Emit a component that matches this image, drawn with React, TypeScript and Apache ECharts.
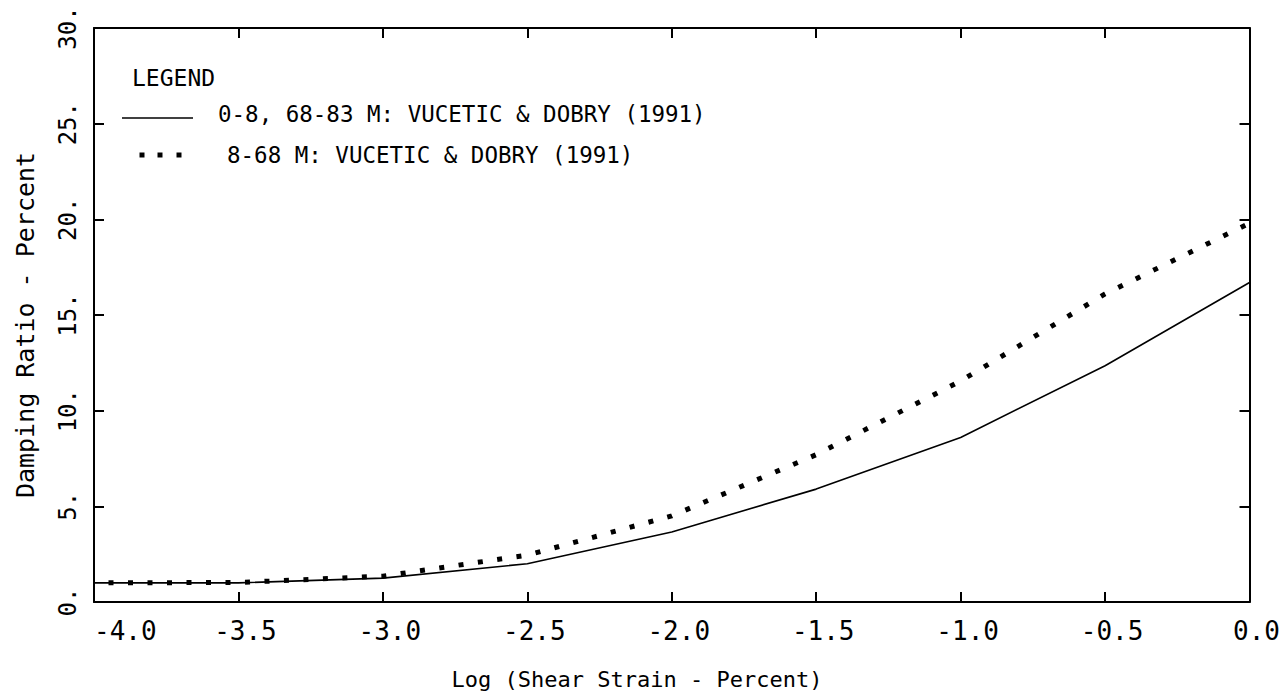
import React, { useEffect, useRef } from "react";
import * as echarts from "echarts";

const xTickLabels = ["-4.0", "-3.5", "-3.0", "-2.5", "-2.0", "-1.5", "-1.0", "-0.5", "0.0"];
const yTickLabels = ["0.", "5.", "10.", "15.", "20.", "25.", "30."];
const strainLog = [-4.0, -3.5, -3.0, -2.5, -2.0, -1.5, -1.0, -0.5, 0.0];
const dampingShallowDeep = [1.0, 1.0, 1.25, 2.0, 3.66, 5.9, 8.6, 12.35, 16.7];
const dampingMiddle = [1.0, 1.02, 1.35, 2.45, 4.5, 7.7, 11.55, 16.1, 19.8];
const seriesNames = ["0-8, 68-83 M: VUCETIC & DOBRY (1991)", "8-68 M: VUCETIC & DOBRY (1991)"];
const legendTitle = "LEGEND";
const xTitle = "Log (Shear Strain - Percent)";
const yTitle = "Damping Ratio - Percent";

const FONT = "'DejaVu Sans Mono', 'Liberation Mono', monospace";

export default function App() {
  const ref = useRef<HTMLDivElement>(null);
  useEffect(() => {
    if (!ref.current) return;
    const chart = echarts.init(ref.current, null, { renderer: "svg" });
    const xLabel = (v: number) => {
      const i = Math.round((v + 4) / 0.5);
      const t = xTickLabels[i] ?? "";
      return i === 0 ? `{m|${t}}` : `{s|${t}}`;
    };
    const yLabel = (v: number) => {
      const i = Math.round(v / 5);
      return yTickLabels[i] ?? "";
    };
    const axisCommonX = {
      type: "value",
      min: -4,
      max: 0,
      interval: 0.5,
      splitLine: { show: false },
      axisLine: { show: true, onZero: false, lineStyle: { color: "#000", width: 2 } },
      axisTick: { show: true, inside: true, length: 10, lineStyle: { color: "#000", width: 2 } },
    };
    const axisCommonY = {
      type: "value",
      min: 0,
      max: 30,
      interval: 5,
      splitLine: { show: false },
      axisLine: { show: true, onZero: false, lineStyle: { color: "#000", width: 2 } },
      axisTick: { show: true, inside: true, length: 10, lineStyle: { color: "#000", width: 2 } },
    };
    chart.setOption({
      animation: false,
      backgroundColor: "#fff",
      grid: { left: 94, right: 32, top: 28, bottom: 97, containLabel: false },
      xAxis: [
        {
          ...axisCommonX,
          position: "bottom",
          axisLabel: {
            show: true,
            formatter: xLabel,
            color: "#000",
            fontFamily: FONT,
            fontSize: 26,
            margin: 16,
            alignMinLabel: "left",
            rich: {
              s: { fontFamily: FONT, fontSize: 26, color: "#000", padding: [0, 0, 0, 14] },
              m: { fontFamily: FONT, fontSize: 26, color: "#000", padding: [0, 0, 0, 0] },
            },
          },
        },
        { ...axisCommonX, position: "top", axisLabel: { show: false } },
      ],
      yAxis: [
        {
          ...axisCommonY,
          position: "left",
          axisLabel: {
            show: true,
            formatter: yLabel,
            rotate: 90,
            color: "#000",
            fontFamily: FONT,
            fontSize: 24,
            margin: 14,
          },
        },
        { ...axisCommonY, position: "right", axisLabel: { show: false } },
      ],
      series: [
        {
          name: seriesNames[0],
          type: "line",
          data: strainLog.map((x, i) => [x, dampingShallowDeep[i]]),
          showSymbol: false,
          lineStyle: { color: "#000", width: 1.6 },
          z: 3,
        },
        {
          name: seriesNames[1],
          type: "line",
          data: strainLog.map((x, i) => [x, dampingMiddle[i]]),
          showSymbol: false,
          lineStyle: { color: "#000", width: 5, type: [5, 14.5], dashOffset: 4.5, cap: "butt" },
          z: 2,
        },
      ],
      graphic: [
        {
          type: "text",
          x: 132,
          y: 78,
          style: { text: legendTitle, font: `23px ${FONT}`, fill: "#000", verticalAlign: "middle" },
        },
        {
          type: "line",
          shape: { x1: 122, y1: 118, x2: 193, y2: 118 },
          style: { stroke: "#000", lineWidth: 1.6 },
        },
        {
          type: "text",
          x: 218,
          y: 114,
          style: { text: seriesNames[0], font: `22.5px ${FONT}`, fill: "#000", verticalAlign: "middle" },
        },
        { type: "rect", shape: { x: 139.5, y: 152.5, width: 5, height: 5 }, style: { fill: "#000" } },
        { type: "rect", shape: { x: 157.5, y: 152.5, width: 5, height: 5 }, style: { fill: "#000" } },
        { type: "rect", shape: { x: 176.5, y: 152.5, width: 5, height: 5 }, style: { fill: "#000" } },
        {
          type: "text",
          x: 227,
          y: 155,
          style: { text: seriesNames[1], font: `22.5px ${FONT}`, fill: "#000", verticalAlign: "middle" },
        },
        {
          type: "text",
          x: 637,
          y: 679,
          style: { text: xTitle, font: `22px ${FONT}`, fill: "#000", align: "center", verticalAlign: "middle" },
        },
        {
          type: "text",
          x: 25,
          y: 325,
          rotation: Math.PI / 2,
          style: { text: yTitle, font: `25px ${FONT}`, fill: "#000", align: "center", verticalAlign: "middle" },
        },
      ],
    });
    return () => chart.dispose();
  }, []);
  return (
    <div
      ref={ref}
      style={{ position: "absolute", left: 0, top: 0, width: 1283, height: 699, background: "#fff" }}
    />
  );
}
